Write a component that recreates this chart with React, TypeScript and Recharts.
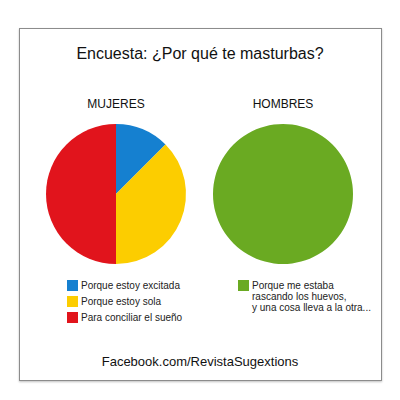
import { PieChart, Pie, Cell } from 'recharts'

const title = 'Encuesta: ¿Por qué te masturbas?'
const footer = 'Facebook.com/RevistaSugextions'

const mujeresTitle = 'MUJERES'
const mujeresLabels = ['Porque estoy excitada', 'Porque estoy sola', 'Para conciliar el sueño']
const mujeresValues = [12.5, 37.5, 50]
const mujeresColors = ['#1580d0', '#fccd00', '#e1141c']

const hombresTitle = 'HOMBRES'
const hombresLabels = ['Porque me estaba\nrascando los huevos,\ny una cosa lleva a la otra...']
const hombresValues = [100]
const hombresColors = ['#6aaa22']

const mujeresData = mujeresLabels.map((name, i) => ({ name, value: mujeresValues[i] }))
const hombresData = hombresLabels.map((name, i) => ({ name, value: hombresValues[i] }))

const font = '"Liberation Sans", Arial, sans-serif'

function LegendList({ labels, colors, left, top }: { labels: string[]; colors: string[]; left: number; top: number }) {
  return (
    <div style={{ position: 'absolute', left, top }}>
      {labels.map((label, i) => (
        <div key={i} style={{ display: 'flex', alignItems: 'flex-start', height: 16 }}>
          <div style={{ width: 11, height: 11, background: colors[i], marginRight: 3, flexShrink: 0 }} />
          <div style={{ fontSize: 10, lineHeight: '11px', color: '#222', whiteSpace: 'pre' }}>{label}</div>
        </div>
      ))}
    </div>
  )
}

export default function App() {
  return (
    <div style={{ position: 'absolute', left: 0, top: 0, width: 400, height: 400, background: '#fff', fontFamily: font }}>
      <div
        style={{
          position: 'absolute',
          left: 19,
          top: 28,
          width: 361,
          height: 351,
          border: '1.5px solid #8c8c8c',
          boxShadow: '0 1px 2px rgba(0,0,0,0.25)',
        }}
      />
      <div style={{ position: 'absolute', left: 0, width: 400, top: 45, textAlign: 'center', fontSize: 16, color: '#111' }}>
        {title}
      </div>
      <div style={{ position: 'absolute', left: 56, width: 120, top: 97, textAlign: 'center', fontSize: 12, color: '#111' }}>
        {mujeresTitle}
      </div>
      <div style={{ position: 'absolute', left: 223, width: 120, top: 97, textAlign: 'center', fontSize: 12, color: '#111' }}>
        {hombresTitle}
      </div>
      <div style={{ position: 'absolute', left: 0, top: 0 }}>
        <PieChart width={400} height={400} margin={{ top: 0, right: 0, bottom: 0, left: 0 }}>
          <Pie
            data={mujeresData}
            dataKey="value"
            cx={116}
            cy={194}
            outerRadius={70}
            startAngle={90}
            endAngle={-270}
            stroke="none"
            isAnimationActive={false}
          >
            {mujeresData.map((_, i) => (
              <Cell key={i} fill={mujeresColors[i]} />
            ))}
          </Pie>
          <Pie
            data={hombresData}
            dataKey="value"
            cx={283}
            cy={194}
            outerRadius={70}
            startAngle={90}
            endAngle={-270}
            stroke="none"
            isAnimationActive={false}
          >
            {hombresData.map((_, i) => (
              <Cell key={i} fill={hombresColors[i]} />
            ))}
          </Pie>
        </PieChart>
      </div>
      <LegendList labels={mujeresLabels} colors={mujeresColors} left={67} top={280} />
      <LegendList labels={hombresLabels} colors={hombresColors} left={238} top={280} />
      <div style={{ position: 'absolute', left: 0, width: 400, top: 354, textAlign: 'center', fontSize: 13, color: '#111' }}>
        {footer}
      </div>
    </div>
  )
}
